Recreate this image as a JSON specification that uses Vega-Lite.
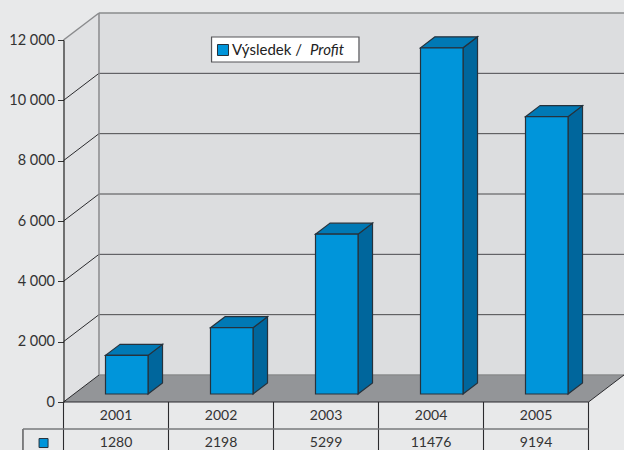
{
"$schema":"https://vega.github.io/schema/vega-lite/v6.json",
"width":525,"height":362,
"padding":{"left":63.5,"top":40,"right":35.5,"bottom":48},
"autosize":"none",
"background":"#e8e9ea",
"config":{"view":{"stroke":null},"text":{"font":"Lato","fontSize":14,"color":"#333333"}},
"data":{"values":[{"year":2001,"value":1280},{"year":2002,"value":2198},{"year":2003,"value":5299},{"year":2004,"value":11476},{"year":2005,"value":9194}]},
"layer":[
{"data":{"values":[{"k":0},{"k":1}]},
 "transform":[{"calculate":"2000.5+datum.k*0.338","as":"xx"},{"calculate":"datum.k*895","as":"lo"},{"calculate":"12000+datum.k*895","as":"hi"}],
 "mark":{"type":"area","fill":"#e0e1e3","clip":false},
 "encoding":{"x":{"field":"xx","type":"quantitative","scale":{"domain":[2000.5,2005.5],"nice":false,"zero":false},"axis":null},
  "y":{"field":"lo","type":"quantitative","scale":{"domain":[0,12000],"nice":false,"zero":false},
   "axis":{"values":[0,2000,4000,6000,8000,10000,12000],"title":null,"grid":false,"zindex":1,"tickSize":6,"tickColor":"#333333","domainColor":"#222222","domainWidth":1.2,"labelFont":"Lato","labelFontSize":14.5,"labelColor":"#333333","labelPadding":3,"labelExpr":"replace(format(datum.value,','),',',' ')"}},"y2":{"field":"hi"}}},
{"mark":{"type":"rect","fill":"#dcdddf"},
 "data":{"values":[{}]},
 "encoding":{"x":{"datum":2000.838,"type":"quantitative","scale":{"domain":[2000.5,2005.5]},"axis":null},"x2":{"datum":2005.838},
  "y":{"datum":895,"type":"quantitative","scale":{"domain":[0,12000]}},"y2":{"datum":12895}}},
{"data":{"values":[{"k":0},{"k":1}]},
 "transform":[{"calculate":"datum.k*895","as":"yy"},{"calculate":"2000.5+datum.k*0.338","as":"x0"},{"calculate":"2005.5+datum.k*0.338","as":"x1"}],
 "mark":{"type":"area","orient":"horizontal","fill":"#939598"},
 "encoding":{"y":{"field":"yy","type":"quantitative","scale":{"domain":[0,12000]}},
  "x":{"field":"x0","type":"quantitative","scale":{"domain":[2000.5,2005.5]},"axis":null},"x2":{"field":"x1"}}},
{"data":{"values":[{"v":2000},{"v":4000},{"v":6000},{"v":8000},{"v":10000}]},
 "transform":[{"calculate":"datum.v+895","as":"b"}],
 "mark":{"type":"rule","stroke":"#4a4a4d","strokeWidth":1},
 "encoding":{"x":{"datum":2000.838,"type":"quantitative","scale":{"domain":[2000.5,2005.5]},"axis":null},"x2":{"datum":2005.838},
  "y":{"field":"b","type":"quantitative","scale":{"domain":[0,12000]}}}},
{"data":{"values":[{"v":0},{"v":2000},{"v":4000},{"v":6000},{"v":8000},{"v":10000}]},
 "transform":[{"calculate":"datum.v+895","as":"b"}],
 "mark":{"type":"rule","stroke":"#2b2b2e","strokeWidth":1},
 "encoding":{"x":{"datum":2000.5,"type":"quantitative","scale":{"domain":[2000.5,2005.5]},"axis":null},"x2":{"datum":2000.838},
  "y":{"field":"v","type":"quantitative","scale":{"domain":[0,12000]}},"y2":{"field":"b"}}},
{"data":{"values":[{"v":895},{"v":12895}]},
 "mark":{"type":"rule","stroke":"#8a8b8d","strokeWidth":1.5},
 "encoding":{"x":{"datum":2000.838,"type":"quantitative","scale":{"domain":[2000.5,2005.5]},"axis":null},"x2":{"datum":2005.838},
  "y":{"field":"v","type":"quantitative","scale":{"domain":[0,12000]}}}},
{"data":{"values":[{}]},
 "mark":{"type":"rule","stroke":"#8a8b8d","strokeWidth":1.5},
 "encoding":{"x":{"datum":2000.838,"type":"quantitative","scale":{"domain":[2000.5,2005.5]},"axis":null},
  "y":{"datum":895,"type":"quantitative","scale":{"domain":[0,12000]}},"y2":{"datum":12895}}},
{"data":{"values":[{}]},
 "mark":{"type":"rule","stroke":"#8a8b8d","strokeWidth":1.5},
 "encoding":{"x":{"datum":2000.5,"type":"quantitative","scale":{"domain":[2000.5,2005.5]},"axis":null},"x2":{"datum":2000.838},
  "y":{"datum":12000,"type":"quantitative","scale":{"domain":[0,12000]}},"y2":{"datum":12895}}},
{"data":{"values":[{}]},
 "mark":{"type":"rule","stroke":"#2b2b2e","strokeWidth":1},
 "encoding":{"x":{"datum":2005.5,"type":"quantitative","scale":{"domain":[2000.5,2005.5]},"axis":null},"x2":{"datum":2005.838},
  "y":{"datum":0,"type":"quantitative","scale":{"domain":[0,12000]}},"y2":{"datum":895}}},
{"transform":[{"calculate":"[0,1]","as":"k"},{"flatten":["k"]},
  {"calculate":"datum.year+0.305+datum.k*0.138","as":"sx"},
  {"calculate":"265+datum.k*365","as":"sb"},
  {"calculate":"265+datum.value+datum.k*365","as":"st"}],
 "mark":{"type":"area","fill":"#00669c","stroke":"#26323c","strokeWidth":1.2},
 "encoding":{"x":{"field":"sx","type":"quantitative","scale":{"domain":[2000.5,2005.5]},"axis":null},
  "y":{"field":"sb","type":"quantitative","scale":{"domain":[0,12000]}},"y2":{"field":"st"},"detail":{"field":"year"}}},
{"transform":[{"calculate":"[0,1]","as":"k"},{"flatten":["k"]},
  {"calculate":"265+datum.value+datum.k*365","as":"ty"},
  {"calculate":"datum.year-0.1+datum.k*0.138","as":"t0"},
  {"calculate":"datum.year+0.305+datum.k*0.138","as":"t1"}],
 "mark":{"type":"area","orient":"horizontal","fill":"#0079b5","stroke":"#26323c","strokeWidth":1.2},
 "encoding":{"y":{"field":"ty","type":"quantitative","scale":{"domain":[0,12000]}},
  "x":{"field":"t0","type":"quantitative","scale":{"domain":[2000.5,2005.5]},"axis":null},"x2":{"field":"t1"},"detail":{"field":"year"}}},
{"transform":[{"calculate":"datum.year-0.1","as":"f0"},{"calculate":"datum.year+0.305","as":"f1"},{"calculate":"265","as":"fb"},{"calculate":"265+datum.value","as":"ft"}],
 "mark":{"type":"rect","fill":"#0095da","stroke":"#26323c","strokeWidth":1.2},
 "encoding":{"x":{"field":"f0","type":"quantitative","scale":{"domain":[2000.5,2005.5]},"axis":null},"x2":{"field":"f1"},
  "y":{"field":"fb","type":"quantitative","scale":{"domain":[0,12000]}},"y2":{"field":"ft"}}},
{"data":{"values":[{"v":0}]},
 "mark":{"type":"rule","stroke":"#2b2b2e","strokeWidth":1.2},
 "encoding":{"x":{"datum":2000.5,"type":"quantitative","scale":{"domain":[2000.5,2005.5]},"axis":null},"x2":{"datum":2005.5},
  "y":{"field":"v","type":"quantitative","scale":{"domain":[0,12000]}}}},
{"data":{"values":[{"c":2000.114,"a":-895,"b":-1600},{"c":2000.5,"a":0,"b":-1600},{"c":2001.5,"a":0,"b":-1600},{"c":2002.5,"a":0,"b":-1600},{"c":2003.5,"a":0,"b":-1600},{"c":2004.5,"a":0,"b":-1600},{"c":2005.5,"a":0,"b":-1600}]},
 "mark":{"type":"rule","stroke":"#2b2b2e","strokeWidth":1.1},
 "encoding":{"x":{"field":"c","type":"quantitative","scale":{"domain":[2000.5,2005.5]},"axis":null},
  "y":{"field":"a","type":"quantitative","scale":{"domain":[0,12000]}},"y2":{"field":"b"}}},
{"data":{"values":[{}]},
 "mark":{"type":"rule","stroke":"#77787b","strokeWidth":1.6},
 "encoding":{"x":{"datum":2000.114,"type":"quantitative","scale":{"domain":[2000.5,2005.5]},"axis":null},"x2":{"datum":2005.5},
  "y":{"datum":-895,"type":"quantitative","scale":{"domain":[0,12000]}}}},
{"mark":{"type":"text","align":"center","baseline":"middle"},
 "encoding":{"x":{"field":"year","type":"quantitative","scale":{"domain":[2000.5,2005.5]},"axis":null},
  "y":{"datum":-480,"type":"quantitative","scale":{"domain":[0,12000]}},"text":{"field":"year"}}},
{"mark":{"type":"text","align":"center","baseline":"middle"},
 "encoding":{"x":{"field":"year","type":"quantitative","scale":{"domain":[2000.5,2005.5]},"axis":null},
  "y":{"datum":-1370,"type":"quantitative","scale":{"domain":[0,12000]}},"text":{"field":"value"}}},
{"data":{"values":[{}]},
 "mark":{"type":"point","shape":"square","filled":true,"fill":"#0095da","stroke":"#26323c","strokeWidth":1,"opacity":1,"size":81},
 "encoding":{"x":{"datum":2000.31,"type":"quantitative","scale":{"domain":[2000.5,2005.5]},"axis":null},
  "y":{"datum":-1360,"type":"quantitative","scale":{"domain":[0,12000]}}}},
{"data":{"values":[{}]},
 "mark":{"type":"rect","fill":"#ffffff","stroke":"#555558","strokeWidth":1.2},
 "encoding":{"x":{"datum":2001.91,"type":"quantitative","scale":{"domain":[2000.5,2005.5]},"axis":null},"x2":{"datum":2003.314},
  "y":{"datum":12099,"type":"quantitative","scale":{"domain":[0,12000]}},"y2":{"datum":11271}}},
{"data":{"values":[{}]},
 "mark":{"type":"point","shape":"square","filled":true,"fill":"#0095da","stroke":"#26323c","strokeWidth":1,"opacity":1,"size":121},
 "encoding":{"x":{"datum":2002.019,"type":"quantitative","scale":{"domain":[2000.5,2005.5]},"axis":null},
  "y":{"datum":11668,"type":"quantitative","scale":{"domain":[0,12000]}}}},
{"data":{"values":[{"t":"Výsledek /","c":2002.105}]},
 "mark":{"type":"text","align":"left","baseline":"middle","fontSize":15,"color":"#222222"},
 "encoding":{"x":{"field":"c","type":"quantitative","scale":{"domain":[2000.5,2005.5]},"axis":null},
  "y":{"datum":11668,"type":"quantitative","scale":{"domain":[0,12000]}},"text":{"field":"t"}}},
{"data":{"values":[{"t":"Profit","c":2002.848}]},
 "mark":{"type":"text","align":"left","baseline":"middle","fontSize":15,"fontStyle":"italic","color":"#222222"},
 "encoding":{"x":{"field":"c","type":"quantitative","scale":{"domain":[2000.5,2005.5]},"axis":null},
  "y":{"datum":11668,"type":"quantitative","scale":{"domain":[0,12000]}},"text":{"field":"t"}}}
]}
